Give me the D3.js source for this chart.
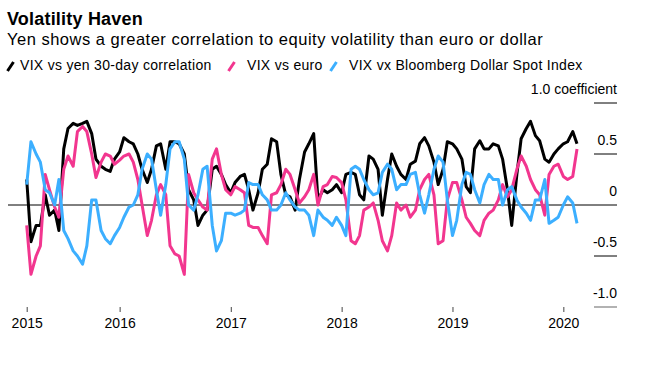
<!DOCTYPE html>
<html>
<head>
<meta charset="utf-8">
<script src="https://cdn.jsdelivr.net/npm/d3@7"></script>
<style>
  body { margin: 0; background: #fff; }
  svg text { font-family: "Liberation Sans", Arial, Helvetica, sans-serif; fill: #000; }
</style>
</head>
<body>
<svg id="chart" width="646" height="367"></svg>
<script>
// readings on the 1st and 15th of each month, Mar 2015 - Feb 2020
const yen = [
  0.25, -0.36, -0.2, -0.2, 0.1, -0.1, -0.05, -0.25, 0.55, 0.75,
  0.8, 0.78, 0.8, 0.82, 0.7, 0.45, 0.38, 0.35, 0.33, 0.45,
  0.52, 0.66, 0.62, 0.6, 0.5, 0.35, 0.22, 0.35, 0.58, 0.6,
  0.35, 0.62, 0.62, 0.6, 0.5, 0.15, 0.05, -0.2, -0.1, -0.05,
  0.35, 0.38, 0.3, 0.2, 0.12, 0.22, 0.28, 0.3, 0.15, -0.05,
  0.12, 0.35, 0.4, 0.65, 0.62, 0.3, 0.1, 0.08, -0.05, 0.25,
  0.52, 0.6, 0.7, 0.05, 0.15, 0.12, 0.15, 0.2, 0.12, 0.3,
  0.32, 0.3, 0.1, 0.05, 0.48, 0.45, 0.35, -0.1, 0.25, 0.5,
  0.38, 0.3, 0.25, 0.4, 0.43, 0.6, 0.66, 0.58, 0.42, 0.2,
  0.35, 0.62, 0.6, 0.55, 0.45, 0.18, 0.12, 0.55, 0.63, 0.55,
  0.55, 0.6, 0.58, 0.45, 0.15, -0.2, 0.3, 0.65, 0.75, 0.82,
  0.68, 0.63, 0.45, 0.42, 0.5, 0.55, 0.6, 0.62, 0.72, 0.6
];
const euro = [
  -0.2, -0.68, -0.5, -0.4, 0.3, 0.15, -0.02, -0.12, 0.35, 0.48,
  0.38, 0.72, 0.77, 0.72, 0.5, 0.27, 0.42, 0.5, 0.48, 0.4,
  0.44, 0.48, 0.5, 0.42, 0.25, 0.0, -0.3, -0.15, 0.1, 0.2,
  0.1, -0.4, -0.48, -0.5, -0.68, 0.3, 0.12, 0.05, -0.02, -0.05,
  0.45, 0.55, 0.3, 0.15, 0.1, 0.18, 0.15, 0.12, -0.2, -0.22,
  -0.22, -0.3, -0.38, 0.1, 0.12, 0.2, 0.35, 0.3, 0.15, 0.02,
  0.08, 0.15, 0.3, 0.0, 0.18, 0.2, 0.28, 0.27, 0.22, 0.05,
  -0.35, -0.38, -0.3, -0.05, -0.02, 0.02, -0.15, -0.35, -0.45, -0.3,
  0.02, -0.05, 0.0, -0.12, -0.05, 0.15, 0.25, 0.3, 0.1, -0.38,
  -0.35, 0.05, 0.22, 0.22, 0.05, -0.12, -0.18, -0.25, -0.3, -0.15,
  -0.08, -0.05, 0.05, 0.2, 0.08, 0.15, 0.35, 0.48, 0.38, 0.25,
  0.15, 0.1, -0.1, 0.3, 0.38, 0.4, 0.28, 0.25, 0.28, 0.55
];
const dollar = [
  0.2, 0.62, 0.5, 0.42, 0.15, 0.12, 0.0, 0.25, -0.25, -0.33,
  -0.45, -0.5, -0.58, -0.4, 0.05, 0.05, -0.25, -0.33, -0.38, -0.3,
  -0.22, -0.12, -0.02, 0.0, 0.1, 0.35, 0.5, 0.45, 0.15, -0.1,
  0.2, 0.55, 0.62, 0.62, 0.45, 0.0, -0.05, 0.1, 0.35, 0.38,
  -0.2, -0.45, -0.35, -0.08, -0.08, -0.1, -0.08, -0.05, 0.22, 0.2,
  0.2, 0.1, 0.05, -0.05, -0.05, 0.0, 0.12, 0.05, -0.02, -0.05,
  -0.05, -0.1, -0.3, -0.05, -0.12, -0.15, -0.2, -0.12, -0.2, -0.3,
  0.35, 0.38, 0.35, 0.25, 0.15, 0.1, 0.12, 0.32, 0.4, 0.35,
  0.15, 0.2, 0.2, 0.3, 0.32, 0.1, -0.08, 0.1, 0.35, 0.48,
  0.42, 0.05, -0.3, -0.15, 0.2, 0.32, 0.3, 0.15, 0.02, 0.2,
  0.3, 0.25, 0.25, 0.0, 0.15, 0.18, 0.05, -0.02, -0.08, -0.15,
  0.05, 0.05, 0.25, -0.18, -0.15, -0.12, 0.0, 0.08, 0.02, -0.18
];
const dates = yen.map((d, i) => new Date(2015, 2 + Math.floor(i / 2), i % 2 ? 15 : 1));

const seriesNames = ["VIX vs yen 30-day correlation", "VIX vs euro", "VIX vx Bloomberg Dollar Spot Index"];
const seriesColors = ["#000000", "#f2368f", "#3cafff"];
const yTicks = [1, 0.5, 0, -0.5, -1];
const yLabels = ["1.0 coefficient", "0.5", "0", "-0.5", "-1.0"];
const xYears = ["2015", "2016", "2017", "2018", "2019", "2020"];

const svg = d3.select("#chart");

//========== titles ==========
svg.append("text").attr("x", 7).attr("y", 25)
  .style("font-size", "18px").style("font-weight", "bold")
  .style("letter-spacing", "0.2px")
  .text("Volatility Haven");
svg.append("text").attr("x", 7).attr("y", 45)
  .style("font-size", "16.5px")
  .style("letter-spacing", "0.5px")
  .text("Yen shows a greater correlation to equity volatility than euro or dollar");

//========== legend ==========
const legendX = [7, 228, 330];
const leg = svg.selectAll("g.leg").data(seriesNames).enter().append("g")
  .attr("class", "leg")
  .attr("transform", (d, i) => "translate(" + legendX[i] + ",0)");
leg.append("line")
  .attr("x1", 0.5).attr("y1", 71).attr("x2", 6.5).attr("y2", 62)
  .attr("stroke", (d, i) => seriesColors[i])
  .attr("stroke-width", 3);
leg.append("text")
  .attr("x", (d, i) => i == 0 ? 13 : 19).attr("y", 70)
  .style("font-size", "14px")
  .style("letter-spacing", "0.3px")
  .text(d => d);

//========== scales ==========
const x = d3.scaleTime()
  .domain([dates[0], dates[dates.length - 1]])
  .range([26.7, 577]);
const y = d3.scaleLinear().domain([-1, 1]).range([307, 103]);

//========== y axis (right) ==========
const yAxis = svg.append("g");
yAxis.selectAll("line").data(yTicks).enter().append("line")
  .attr("x1", 594).attr("x2", 617)
  .attr("y1", d => y(d)).attr("y2", d => y(d))
  .attr("stroke", d => d == -1 ? "#999" : "#000")
  .attr("stroke-width", d => d == -1 ? 1.5 : 1)
  .style("display", d => d == 0 ? "none" : null);
yAxis.selectAll("text").data(yTicks).enter().append("text")
  .attr("x", 617).attr("y", d => y(d) - 9)
  .attr("text-anchor", "end")
  .style("font-size", "14px")
  .text((d, i) => yLabels[i]);

// zero line
svg.append("line")
  .attr("x1", 8).attr("x2", 617)
  .attr("y1", y(0)).attr("y2", y(0))
  .attr("stroke", "#000").attr("stroke-width", 1);

//========== x axis ==========
const xTickDates = xYears.map((yr, i) => i == 0 ? dates[0] : new Date(+yr, 0, 1));
const xAxis = d3.axisBottom(x)
  .tickValues(xTickDates)
  .tickFormat((d, i) => xYears[i])
  .tickSize(5)
  .tickPadding(6);
const gx = svg.append("g").attr("transform", "translate(0,307)").call(xAxis);
gx.select(".domain").remove();
gx.selectAll(".tick line").attr("stroke", "#444");
gx.selectAll(".tick text")
  .style("font-size", "14px")
  .style("font-family", "'Liberation Sans', Arial, sans-serif")
  .attr("fill", "#000");

//========== lines ==========
const line = d3.line()
  .x((d, i) => x(dates[i]))
  .y(d => y(d));
[yen, euro, dollar].forEach((vals, k) => {
  svg.append("path")
    .datum(vals)
    .attr("fill", "none")
    .attr("stroke", seriesColors[k])
    .attr("stroke-width", 3)
    .attr("stroke-linejoin", "round")
    .attr("d", line);
});
</script>
</body>
</html>
